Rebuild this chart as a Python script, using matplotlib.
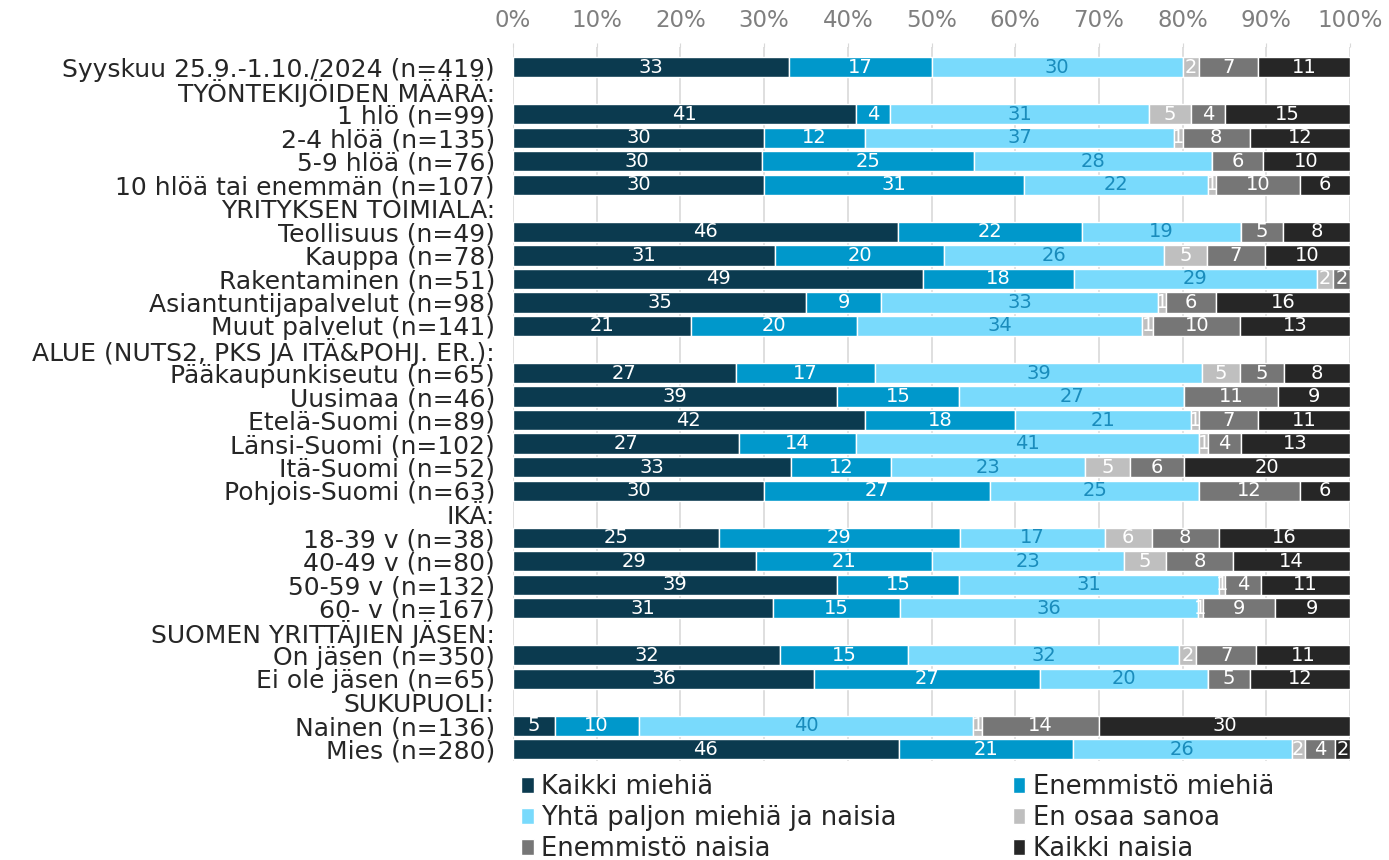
import numpy as np
import matplotlib.pyplot as plt

# row labels (header rows end with ':')
categories = [
    "Syyskuu 25.9.-1.10./2024 (n=419)",
    "TYÖNTEKIJÖIDEN MÄÄRÄ:",
    "1 hlö (n=99)", "2-4 hlöä (n=135)", "5-9 hlöä (n=76)", "10 hlöä tai enemmän (n=107)",
    "YRITYKSEN TOIMIALA:",
    "Teollisuus (n=49)", "Kauppa (n=78)", "Rakentaminen (n=51)",
    "Asiantuntijapalvelut (n=98)", "Muut palvelut (n=141)",
    "ALUE (NUTS2, PKS JA ITÄ&POHJ. ER.):",
    "Pääkaupunkiseutu (n=65)", "Uusimaa (n=46)", "Etelä-Suomi (n=89)",
    "Länsi-Suomi (n=102)", "Itä-Suomi (n=52)", "Pohjois-Suomi (n=63)",
    "IKÄ:",
    "18-39 v (n=38)", "40-49 v (n=80)", "50-59 v (n=132)", "60- v (n=167)",
    "SUOMEN YRITTÄJIEN JÄSEN:",
    "On jäsen (n=350)", "Ei ole jäsen (n=65)",
    "SUKUPUOLI:",
    "Nainen (n=136)", "Mies (n=280)",
]

series_names = ["Kaikki miehiä", "Enemmistö miehiä", "Yhtä paljon miehiä ja naisia",
                "En osaa sanoa", "Enemmistö naisia", "Kaikki naisia"]

# values for the bar rows only, in order
kaikki_miehia = [33, 41, 30, 29.7, 30, 46, 31.3, 49, 35, 21.3, 26.6, 38.7, 42, 27, 33.2, 30,
                 24.6, 29, 38.7, 31.1, 31.9, 36, 5, 46.1]
enemmisto_miehia = [17, 4, 12, 25.4, 31, 22, 20.2, 18, 9, 19.8, 16.7, 14.6, 18, 14, 12.0, 27,
                    28.8, 21, 14.6, 15.1, 15.3, 27, 10, 20.8]
yhta_paljon = [30, 31, 37, 28.4, 22, 19, 26.3, 29, 33, 34.1, 39.0, 26.9, 21, 41, 23.1, 25,
               17.3, 23, 31.0, 35.6, 32.4, 20, 40, 26.1]
en_osaa = [2, 5, 1, 0, 1, 0, 5.1, 2, 1, 1.3, 4.6, 0, 1, 1, 5.4, 0,
           5.6, 5, 0.8, 0.6, 2.0, 0, 1, 1.6]
enemmisto_naisia = [7, 4, 8, 6.1, 10, 5, 6.9, 2, 6, 10.4, 5.2, 11.2, 7, 4, 6.4, 12,
                    8.0, 8, 4.2, 8.6, 7.2, 5, 14, 3.6]
kaikki_naisia = [11, 15, 12, 10.4, 6, 8, 10.2, 0, 16, 13.1, 7.9, 8.6, 11, 13, 19.9, 6,
                 15.7, 14, 10.7, 9.0, 11.2, 12, 30, 1.8]

colors = ["#0b3a4f", "#0098cb", "#79dafc", "#bfbfbf", "#767676", "#262626"]
text_colors = ["white", "white", "#1a8cbc", "white", "white", "white"]

plt.rcParams['font.family'] = ['DejaVu Sans']

fig = plt.figure(figsize=(13.89, 8.6), dpi=100)
ax = fig.add_axes([0.3693, 0.115, 0.6027, 0.83])

bar_rows = [i for i, c in enumerate(categories) if not c.endswith(":")]
data = [kaikki_miehia, enemmisto_miehia, yhta_paljon, en_osaa, enemmisto_naisia, kaikki_naisia]

handles = []
left = np.zeros(len(bar_rows))
for name, vals, col, tcol in zip(series_names, data, colors, text_colors):
    vals = np.array(vals, dtype=float)
    h = ax.barh(bar_rows, vals, left=left, height=0.86, color=col, edgecolor="white",
                linewidth=1, label=name, zorder=3)
    handles.append(h)
    for y, l, v in zip(bar_rows, left, vals):
        if v >= 0.5:
            ax.text(l + v / 2, y, f"{v:.0f}", ha="center", va="center",
                    color=tcol, fontsize=14, zorder=4)
    left += vals

ax.set_xlim(0, 100)
ax.set_ylim(len(categories) - 0.5, -0.85)
ax.set_xticks(np.arange(0, 101, 10))
ax.set_xticklabels([f"{t}%" for t in range(0, 101, 10)])
ax.xaxis.tick_top()
ax.tick_params(axis="x", colors="#d9d9d9", labelcolor="#7f7f7f", labelsize=16.5, length=3, pad=8)
ax.set_yticks(range(len(categories)))
ax.set_yticklabels(categories, fontsize=18, color="#262626")
ax.tick_params(axis="y", length=0, pad=13)
ax.grid(axis="x", color="#d9d9d9", linewidth=1.2, zorder=0)
for s in ax.spines.values():
    s.set_visible(False)

# legend laid out row by row, two columns
leg_kw = dict(loc="upper left", frameon=False, fontsize=18.5, handlelength=0.5,
              handleheight=0.6, handletextpad=0.3, labelspacing=0.2,
              labelcolor="#262626", borderpad=0, borderaxespad=0)
fig.legend([handles[i] for i in (0, 2, 4)], [series_names[i] for i in (0, 2, 4)],
           bbox_to_anchor=(0.375, 0.1), **leg_kw)
fig.legend([handles[i] for i in (1, 3, 5)], [series_names[i] for i in (1, 3, 5)],
           bbox_to_anchor=(0.729, 0.1), **leg_kw)

fig.savefig("out.png", dpi=100)
